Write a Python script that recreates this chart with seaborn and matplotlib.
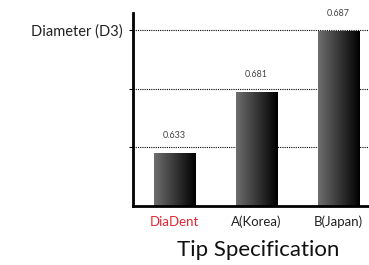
import numpy as np
import pandas as pd
import seaborn as sns
import matplotlib
matplotlib.use("Agg")
import matplotlib.pyplot as plt
from matplotlib.colors import LinearSegmentedColormap

categories = ["DiaDent", "A(Korea)", "B(Japan)"]
bar_heights = [0.90, 1.94, 2.98]          # schematic heights as drawn
value_labels = ["0.633", "0.681", "0.687"]
grid_levels = [1, 2, 3]
ytick_labels = ["", "", "Diameter (D3)"]
label_colors = ["#e32636", "#222222", "#222222"]

sns.set_theme(style="white")
plt.rcParams['font.family'] = ['Lato', 'DejaVu Sans']

df = pd.DataFrame({"cat": categories, "h": bar_heights})

fig = plt.figure(figsize=(3.69, 2.65), dpi=100)
ax = fig.add_axes([0.360, 0.223, 0.640, 0.728])
sns.barplot(data=df, x="cat", y="h", ax=ax, width=0.51, color="black", edgecolor="none")

cmap = LinearSegmentedColormap.from_list("g", ["#6e6e6e", "#000000"])
grad = np.linspace(0, 1, 256).reshape(1, -1)
for p in ax.patches:
    x0, y0 = p.get_x(), p.get_y()
    w, h = p.get_width(), p.get_height()
    p.set_facecolor("none")
    im = ax.imshow(grad, cmap=cmap, extent=[x0, x0 + w, y0, y0 + h],
                   aspect="auto", zorder=2, interpolation="bilinear")
    im.set_clip_path(p)

for i, (h, lab) in enumerate(zip(bar_heights, value_labels)):
    ax.text(i, h + 0.30, lab, ha="center", va="center", fontsize=6.5, color="#444444")

ax.set_xlim(-0.51, 2.37)
ax.set_ylim(0, 3.29)
ax.set_yticks(grid_levels)
ax.set_yticklabels(ytick_labels, fontsize=10.5, color="#222222")
for g in grid_levels:
    ax.axhline(g, color="black", linestyle=(0, (1, 1)), linewidth=0.8, zorder=1)
ax.tick_params(axis="y", length=3, width=0.8, color="black", pad=4, left=True)
ax.tick_params(axis="x", length=0, pad=7, labelsize=9.5)
for t, c in zip(ax.get_xticklabels(), label_colors):
    t.set_color(c)
ax.set_xlabel("Tip Specification", fontsize=16, color="#111111")
ax.xaxis.set_label_coords(0.53, -0.175)
ax.set_ylabel("")

sns.despine(ax=ax, top=True, right=True)
ax.spines["left"].set_linewidth(2)
ax.spines["bottom"].set_linewidth(2)
ax.spines["left"].set_color("black")
ax.spines["bottom"].set_color("black")

fig.savefig("out.png", dpi=100)
